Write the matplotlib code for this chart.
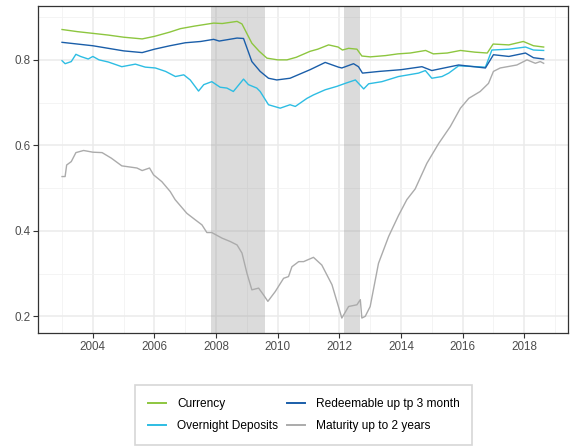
import matplotlib
matplotlib.use('Agg')
import matplotlib.pyplot as plt
from matplotlib.ticker import MultipleLocator
import numpy as np

plt.rcParams['font.family'] = ['Liberation Sans', 'DejaVu Sans']

# shaded recession periods (decimal years)
recessions = [(2007.84, 2009.58), (2012.16, 2012.68)]

currency_x = [2003.0, 2003.5, 2004.0, 2004.5, 2005.0, 2005.6, 2006.0, 2006.5, 2006.84, 2007.3,
              2007.92, 2008.2, 2008.68, 2008.84, 2009.16, 2009.4, 2009.65, 2010.0, 2010.3, 2010.6,
              2011.05, 2011.3, 2011.65, 2011.96, 2012.1, 2012.3, 2012.57, 2012.73, 2013.0, 2013.5,
              2013.9, 2014.3, 2014.8, 2015.05, 2015.5, 2015.93, 2016.4, 2016.8, 2016.99, 2017.5,
              2017.97, 2018.3, 2018.63]
currency_y = [0.871, 0.866, 0.862, 0.858, 0.853, 0.849, 0.855, 0.865, 0.873, 0.879,
              0.886, 0.885, 0.890, 0.884, 0.839, 0.820, 0.804, 0.800, 0.800, 0.806,
              0.820, 0.825, 0.835, 0.830, 0.823, 0.827, 0.825, 0.809, 0.807, 0.810,
              0.814, 0.816, 0.822, 0.814, 0.816, 0.822, 0.818, 0.816, 0.837, 0.835,
              0.843, 0.833, 0.830]

redeem_x = [2003.0, 2004.0, 2005.0, 2005.6, 2006.0, 2006.5, 2007.0, 2007.5, 2007.92, 2008.1,
            2008.68, 2008.89, 2009.16, 2009.43, 2009.7, 2009.97, 2010.4, 2011.05, 2011.54, 2011.97,
            2012.08, 2012.46, 2012.62, 2012.75, 2013.3, 2014.0, 2014.68, 2015.0, 2015.87, 2016.74,
            2017.0, 2017.5, 2018.04, 2018.3, 2018.63]
redeem_y = [0.841, 0.833, 0.821, 0.817, 0.825, 0.833, 0.840, 0.843, 0.848, 0.844,
            0.851, 0.850, 0.796, 0.773, 0.757, 0.753, 0.757, 0.777, 0.794, 0.783,
            0.781, 0.791, 0.784, 0.769, 0.773, 0.777, 0.784, 0.775, 0.788, 0.781,
            0.812, 0.808, 0.816, 0.805, 0.802]

overnight_x = [2003.0, 2003.1, 2003.3, 2003.45, 2003.6, 2003.85, 2004.0, 2004.2, 2004.5, 2004.94,
               2005.38, 2005.7, 2006.03, 2006.36, 2006.68, 2006.95, 2007.16, 2007.43, 2007.6, 2007.86,
               2008.13, 2008.35, 2008.56, 2008.89, 2009.05, 2009.32, 2009.43, 2009.7, 2010.08, 2010.4,
               2010.57, 2010.95, 2011.16, 2011.54, 2011.92, 2012.19, 2012.52, 2012.79, 2012.95, 2013.38,
               2013.92, 2014.57, 2014.79, 2015.0, 2015.33, 2015.55, 2015.87, 2016.74, 2016.95, 2017.5,
               2018.04, 2018.3, 2018.63]
overnight_y = [0.798, 0.791, 0.796, 0.813, 0.808, 0.802, 0.808, 0.800, 0.795, 0.784,
               0.790, 0.783, 0.781, 0.773, 0.761, 0.765, 0.753, 0.727, 0.742, 0.749,
               0.736, 0.734, 0.726, 0.755, 0.742, 0.734, 0.726, 0.695, 0.687, 0.695,
               0.691, 0.710, 0.718, 0.730, 0.738, 0.745, 0.753, 0.732, 0.744, 0.749,
               0.761, 0.769, 0.775, 0.757, 0.761, 0.769, 0.786, 0.783, 0.823, 0.825,
               0.830, 0.823, 0.822]

maturity_x = [2003.0, 2003.1, 2003.15, 2003.3, 2003.45, 2003.7, 2004.0, 2004.3, 2004.6, 2004.94,
              2005.43, 2005.6, 2005.84, 2005.97, 2006.24, 2006.51, 2006.67, 2007.05, 2007.32, 2007.54,
              2007.7, 2007.86, 2008.19, 2008.46, 2008.68, 2008.84, 2009.0, 2009.16, 2009.38, 2009.54,
              2009.68, 2009.92, 2010.19, 2010.35, 2010.46, 2010.68, 2010.84, 2011.16, 2011.43, 2011.76,
              2012.08, 2012.3, 2012.57, 2012.68, 2012.73, 2012.84, 2013.0, 2013.27, 2013.6, 2013.92,
              2014.19, 2014.46, 2014.84, 2015.22, 2015.6, 2015.93, 2016.2, 2016.57, 2016.84, 2017.0,
              2017.22, 2017.76, 2018.09, 2018.36, 2018.52, 2018.63]
maturity_y = [0.527, 0.527, 0.554, 0.562, 0.583, 0.588, 0.584, 0.583, 0.570, 0.552,
              0.547, 0.541, 0.547, 0.531, 0.515, 0.492, 0.473, 0.441, 0.426, 0.414,
              0.396, 0.396, 0.383, 0.375, 0.367, 0.348, 0.301, 0.262, 0.266, 0.250,
              0.235, 0.258, 0.289, 0.293, 0.316, 0.328, 0.328, 0.338, 0.320, 0.274,
              0.196, 0.223, 0.227, 0.239, 0.196, 0.200, 0.223, 0.324, 0.387, 0.436,
              0.473, 0.498, 0.558, 0.604, 0.644, 0.687, 0.710, 0.726, 0.745, 0.773,
              0.781, 0.788, 0.800, 0.792, 0.796, 0.792]

series = [
    ('Currency', currency_x, currency_y, '#8DC63F'),
    ('Overnight Deposits', overnight_x, overnight_y, '#2DBDE3'),
    ('Redeemable up tp 3 month', redeem_x, redeem_y, '#1A5EA9'),
    ('Maturity up to 2 years', maturity_x, maturity_y, '#ABABAB'),
]

fig = plt.figure(figsize=(5.72, 4.47), dpi=100)
ax = fig.add_axes([38 / 572, 1 - 333 / 447, 530 / 572, 327 / 447])

ax.set_xlim(2002.22, 2019.42)
ax.set_ylim(0.161, 0.926)
ax.xaxis.set_minor_locator(MultipleLocator(1))
ax.yaxis.set_minor_locator(MultipleLocator(0.1))
ax.set_xticks(np.arange(2004, 2019, 2))
ax.set_xticklabels([str(y) for y in range(2004, 2019, 2)])
ax.set_yticks([0.2, 0.4, 0.6, 0.8])
ax.set_yticklabels(['0.2', '0.4', '0.6', '0.8'])

ax.grid(which='major', color='#EBEBEB', lw=1.1, zorder=0)
ax.grid(which='minor', color='#F2F2F2', lw=0.6, zorder=0)
ax.set_axisbelow(True)
ax.tick_params(which='minor', length=0)
ax.tick_params(which='major', length=3.5, width=0.8, color='#333333',
               labelsize=8.4, labelcolor='#4D4D4D', pad=2)
for sp in ax.spines.values():
    sp.set_color('#333333')
    sp.set_linewidth(0.9)

for a, b in recessions:
    ax.axvspan(a, b, color='#808080', alpha=0.28, lw=0, zorder=1)

handles = []
for name, xs, ys, col in series:
    h, = ax.plot(xs, ys, color=col, lw=1.0, label=name, zorder=3)
    handles.append(h)

leg = fig.legend(handles=handles, loc='lower center', bbox_to_anchor=(0.531, 0.004),
                 ncol=2, fontsize=8.6, frameon=True, fancybox=False,
                 handlelength=1.5, handletextpad=0.9, columnspacing=0.75,
                 labelspacing=0.85, borderpad=1.1, borderaxespad=0)
leg.get_frame().set_edgecolor('#CCCCCC')
leg.get_frame().set_linewidth(1.2)
for line in leg.get_lines():
    line.set_linewidth(1.4)

fig.savefig('out.png', dpi=100)
